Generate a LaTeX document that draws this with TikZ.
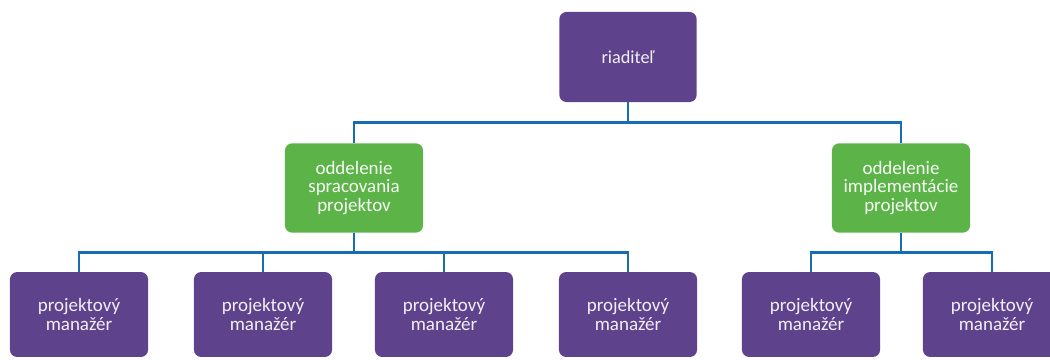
\documentclass[tikz,border=0pt]{standalone}
\usepackage{fontspec}
\setmainfont{Carlito}
\usetikzlibrary{positioning}

\definecolor{headviolet}{RGB}{95,66,140}
\definecolor{deptgreen}{RGB}{92,180,72}
\definecolor{linkblue}{RGB}{24,108,178}

\begin{document}
\begin{tikzpicture}[
    x=0.025cm, y=-0.025cm,
    boss/.style={rectangle, rounded corners=5pt, fill=headviolet, text=white!92!headviolet, minimum width=3.43cm, minimum height=2.25cm, align=center, font=\fontsize{13}{14}\selectfont},
    dept/.style={rectangle, rounded corners=5pt, fill=deptgreen, text=white!95!deptgreen, minimum width=3.45cm, minimum height=2.23cm, align=center, font=\fontsize{13.5}{13.3}\selectfont},
    pm/.style={rectangle, rounded corners=5pt, fill=headviolet, text=white!92!headviolet, minimum width=3.45cm, minimum height=2.12cm, align=center, font=\fontsize{13.5}{13.8}\selectfont},
    link/.style={draw=linkblue, line width=2pt}
]
    \clip (0,0) rectangle (1050,360);

    \node[boss] (boss) at (628,57) {riaditeľ};

    \node[dept] (dspr) at (354,188) {oddelenie\\spracovania\\projektov};
    \node[dept] (dimp) at (901,188) {oddelenie\\implementácie\\projektov};

    \node[pm] (pma) at (79,314.5) {projektový\\manažér};
    \node[pm] (pmb) at (263,314.5) {projektový\\manažér};
    \node[pm] (pmc) at (444,314.5) {projektový\\manažér};
    \node[pm] (pmd) at (628,314.5) {projektový\\manažér};
    \node[pm] (pme) at (811,314.5) {projektový\\manažér};
    \node[pm] (pmf) at (992,314.5) {projektový\\manažér};

    \draw[link] (boss.south) -- +(0,20) -| (dspr.north);
    \draw[link] (boss.south) -- +(0,20) -| (dimp.north);

    \draw[link] (dspr.south) -- +(0,20) -| (pma.north);
    \draw[link] (dspr.south) -- +(0,20) -| (pmb.north);
    \draw[link] (dspr.south) -- +(0,20) -| (pmc.north);
    \draw[link] (dspr.south) -- +(0,20) -| (pmd.north);

    \draw[link] (dimp.south) -- +(0,20) -| (pme.north);
    \draw[link] (dimp.south) -- +(0,20) -| (pmf.north);
\end{tikzpicture}
\end{document}
